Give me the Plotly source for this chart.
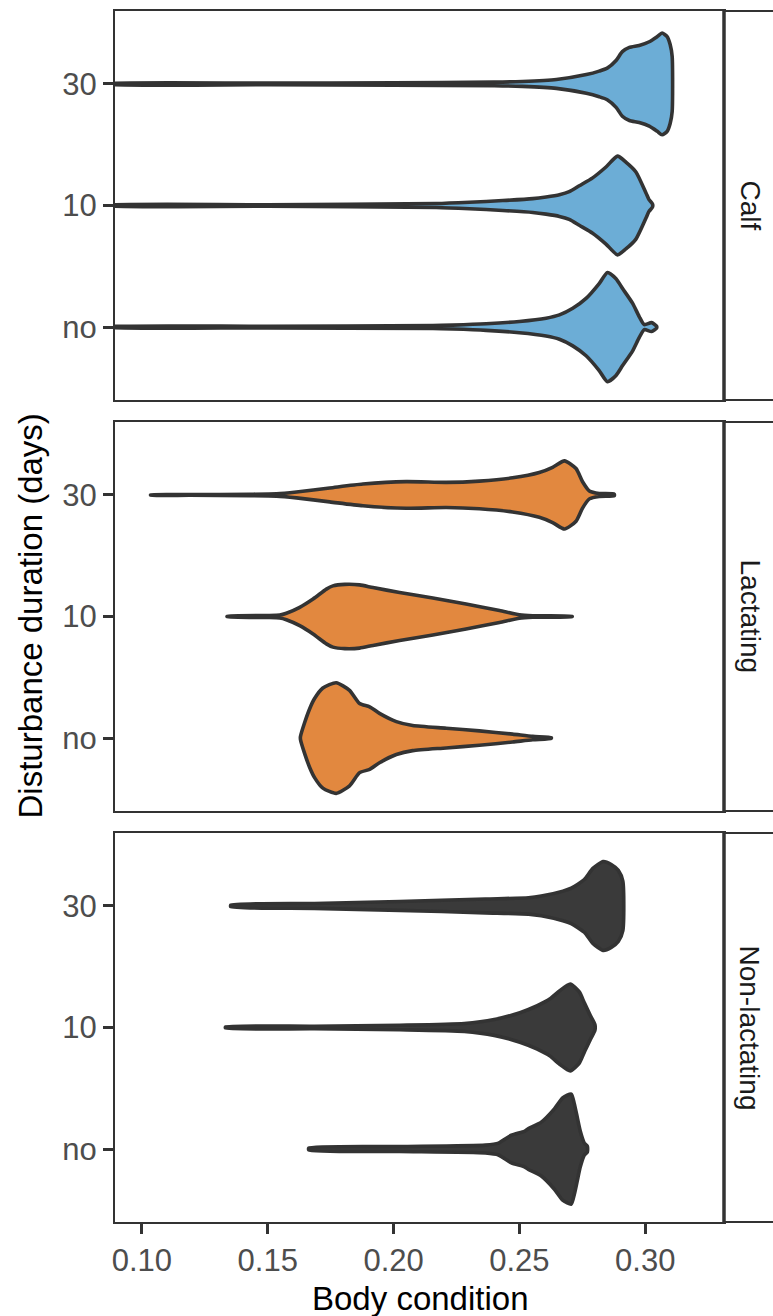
import plotly.graph_objects as go
from plotly.subplots import make_subplots

# Disturbance scenarios (y categories, bottom to top)
categories = ["no", "10", "30"]
groups = ["Calf", "Lactating", "Non-lactating"]

# Violin profiles: body condition grid and density (arbitrary units, max = 56)
calf_30_x = [0.085, 0.15, 0.20, 0.24, 0.2512, 0.2647, 0.2766, 0.2817, 0.2849, 0.2885,
             0.2909, 0.2937, 0.2976, 0.3016, 0.3048, 0.3067, 0.3087, 0.3099, 0.3107]
calf_30_d = [0.3, 0.8, 1.2, 1.8, 2.5, 4.5, 9.5, 13, 16, 24,
             32.7, 37, 39, 42.7, 48, 51.5, 48, 40, 28]

calf_10_x = [0.085, 0.15, 0.2169, 0.2302, 0.2434, 0.2553, 0.2606, 0.2659, 0.2698, 0.2738,
             0.2791, 0.2844, 0.2890, 0.2923, 0.2963, 0.3003, 0.3015, 0.3029]
calf_10_d = [0.3, 0.8, 2, 3.3, 5, 7, 8.7, 11, 14, 20,
             28, 39, 50, 44, 34, 12.7, 6, 1.5]

calf_no_x = [0.085, 0.15, 0.2156, 0.2235, 0.2368, 0.2500, 0.2606, 0.2659, 0.2712, 0.2765,
             0.2817, 0.2850, 0.2884, 0.2910, 0.2950, 0.2976, 0.2996, 0.3025, 0.3045]
calf_no_d = [0.3, 0.8, 1.5, 2, 3.3, 5.7, 9, 12.3, 19, 29,
             44, 55.3, 49, 39, 24, 10.7, 2.5, 4.5, 1]

lact_30_x = [0.1035, 0.1190, 0.1429, 0.1535, 0.1614, 0.1746, 0.1878, 0.2050, 0.2209, 0.2341,
             0.2473, 0.2579, 0.2632, 0.2679, 0.2725, 0.2751, 0.2778, 0.2817, 0.2877]
lact_30_d = [0.2, 0.3, 0.7, 1.2, 3, 7, 11, 13.5, 12.7, 14,
             17.3, 22.7, 28, 34.5, 26.7, 13.3, 4, 1.5, 0.8]

lact_10_x = [0.1339, 0.1495, 0.1548, 0.1574, 0.1627, 0.1680, 0.1733, 0.1759, 0.1806, 0.1865,
             0.1918, 0.2024, 0.2156, 0.2288, 0.2421, 0.2500, 0.2553, 0.2709]
lact_10_d = [0.3, 1, 1.5, 3.3, 9.3, 17.7, 27.7, 31, 32.5, 32,
             29.3, 24.3, 18.7, 12.7, 6, 1.7, 0.8, 0.3]

lact_no_x = [0.1630, 0.1647, 0.1667, 0.1686, 0.1719, 0.1772, 0.1825, 0.1865, 0.1905, 0.1944,
             0.2011, 0.2076, 0.2209, 0.2341, 0.2473, 0.2553, 0.2626]
lact_no_d = [1.5, 16, 30, 40, 50.7, 56, 48.3, 35, 31.7, 25,
             16.7, 12.7, 10, 7.3, 4, 1.7, 0.5]

nonl_30_x = [0.1353, 0.1685, 0.2024, 0.2365, 0.2536, 0.2587, 0.2673, 0.2706, 0.2758, 0.2792,
             0.2833, 0.2865, 0.2893, 0.2911]
nonl_30_d = [0.8, 2.5, 4.5, 7, 8.3, 10, 15, 18, 26.7, 38,
             45, 42, 36, 25]

nonl_10_x = [0.1332, 0.1685, 0.2025, 0.2281, 0.2400, 0.2502, 0.2571, 0.2622, 0.2659, 0.2702,
             0.2738, 0.2758, 0.2782, 0.2800]
nonl_10_d = [0.5, 1.3, 2.3, 4, 8, 15, 22, 29, 37, 44,
             36, 25, 12, 3]

nonl_no_x = [0.1663, 0.2024, 0.2365, 0.2417, 0.2468, 0.2520, 0.2536, 0.2587, 0.2639, 0.2673,
             0.2706, 0.2718, 0.2730, 0.2742, 0.2758, 0.2770]
nonl_no_d = [1, 2.5, 4, 6, 14, 18, 20.7, 27.3, 40.7, 52,
             55.7, 46, 32, 18, 6, 3]

x_ticks = [0.10, 0.15, 0.20, 0.25, 0.30]
x_ticktext = ["0.10", "0.15", "0.20", "0.25", "0.30"]

DENS_MAX = 56.0
HALF_WIDTH = 0.455

fills = {"Calf": "#6CADD6", "Lactating": "#E2883F", "Non-lactating": "#3A3A3A"}
OUTLINE = "#333333"

profiles = {
    "Calf": [(calf_no_x, calf_no_d), (calf_10_x, calf_10_d), (calf_30_x, calf_30_d)],
    "Lactating": [(lact_no_x, lact_no_d), (lact_10_x, lact_10_d), (lact_30_x, lact_30_d)],
    "Non-lactating": [(nonl_no_x, nonl_no_d), (nonl_10_x, nonl_10_d), (nonl_30_x, nonl_30_d)],
}

W, H = 773, 1316
ML, MR, MT, MB = 115, 49, 9, 94
plot_h = H - MT - MB
gap = 22

fig = make_subplots(rows=3, cols=1, shared_xaxes=True,
                    vertical_spacing=gap / plot_h)

for r, g in enumerate(groups, start=1):
    for pos, (xs, ds) in enumerate(profiles[g], start=1):
        hw = [d / DENS_MAX * HALF_WIDTH for d in ds]
        px = list(xs) + list(reversed(xs)) + [xs[0]]
        py = [pos + w for w in hw] + [pos - w for w in reversed(hw)] + [pos + hw[0]]
        fig.add_trace(go.Scatter(
            x=px, y=py, mode="lines", fill="toself",
            fillcolor=fills[g],
            line=dict(color=OUTLINE, width=3.6, shape="spline", smoothing=0.6),
            hoverinfo="skip", showlegend=False), row=r, col=1)

axis_common = dict(showgrid=False, zeroline=False, showline=True, mirror=True,
                   linecolor=OUTLINE, linewidth=2)
tick_font = dict(family="Liberation Sans, Arial, sans-serif", size=31, color="#4D4D4D")

for r in range(1, 4):
    fig.update_yaxes(range=[0.4, 3.6], tickvals=[1, 2, 3], ticktext=categories,
                     ticks="outside", ticklen=10, tickwidth=3, tickcolor=OUTLINE,
                     tickfont=tick_font, **axis_common, row=r, col=1)
    fig.update_xaxes(range=[0.0893, 0.3313], **axis_common, row=r, col=1)
    if r < 3:
        fig.update_xaxes(showticklabels=False, ticks="", row=r, col=1)
    else:
        fig.update_xaxes(tickvals=x_ticks, ticktext=x_ticktext, ticks="outside",
                         ticklen=10, tickwidth=3, tickcolor=OUTLINE,
                         tickfont=tick_font, row=r, col=1)

# Facet strips on the right side
shapes = []
annotations = []
plot_w = W - ML - MR
for r, g in enumerate(groups, start=1):
    yname = "yaxis" if r == 1 else f"yaxis{r}"
    dom = fig.layout[yname].domain
    shapes.append(dict(type="rect", xref="paper", yref="paper",
                       x0=1.0, x1=1.6, y0=dom[0], y1=dom[1],
                       line=dict(color=OUTLINE, width=2), fillcolor="white", layer="above"))
    shapes.append(dict(type="line", xref="paper", yref="paper",
                       x0=1.0, x1=1.0, y0=dom[0], y1=dom[1],
                       line=dict(color=OUTLINE, width=3.5), layer="above"))
    annotations.append(dict(text=g, xref="paper", yref="paper",
                            x=1 + 26 / plot_w, y=(dom[0] + dom[1]) / 2,
                            textangle=90, showarrow=False,
                            xanchor="center", yanchor="middle",
                            font=dict(family="Liberation Sans, Arial, sans-serif",
                                      size=28, color="#1A1A1A")))

title_font = dict(family="Liberation Sans, Arial, sans-serif", size=33, color="black")
annotations.append(dict(text="Body condition", xref="paper", yref="paper",
                        x=0.5, y=-(1299 - (H - MB)) / plot_h, showarrow=False,
                        xanchor="center", yanchor="middle", font=title_font))
annotations.append(dict(text="Disturbance duration (days)", xref="paper", yref="paper",
                        x=(30 - ML) / plot_w, y=0.5, textangle=-90, showarrow=False,
                        xanchor="center", yanchor="middle", font=title_font))

fig.update_layout(width=W, height=H, margin=dict(l=ML, r=MR, t=MT, b=MB),
                  plot_bgcolor="white", paper_bgcolor="white",
                  shapes=shapes, annotations=annotations, showlegend=False)

fig.write_html("out.html")
